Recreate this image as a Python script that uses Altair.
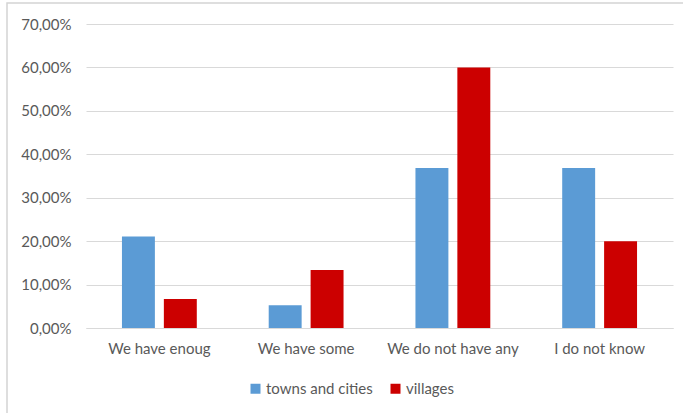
import altair as alt
import pandas as pd

# Survey answers, share of respondents per settlement type
categories = ["We have enoug", "We have some", "We do not have any", "I do not know"]
series = ["towns and cities", "villages"]
towns_and_cities = [0.2105, 0.0526, 0.3684, 0.3684]
villages = [0.0667, 0.1333, 0.6000, 0.2000]
y_ticks = [0.0, 0.1, 0.2, 0.3, 0.4, 0.5, 0.6, 0.7]
colors = ["#5b9bd5", "#cc0000"]

rows = []
for cat, t, v in zip(categories, towns_and_cities, villages):
    rows.append({"answer": cat, "area": series[0], "share": t})
    rows.append({"answer": cat, "area": series[1], "share": v})
df = pd.DataFrame(rows)

FONT = "Lato"
FS = 15
GREY_TEXT = "#595959"
GRID = "#d9d9d9"

bars = alt.Chart(df).mark_bar().encode(
    x=alt.X(
        "answer:N",
        sort=categories,
        scale=alt.Scale(paddingInner=0.49, paddingOuter=0.245),
        axis=alt.Axis(
            title=None, labelAngle=0, ticks=False, domain=True,
            domainColor=GRID, labelPadding=13, labelFontSize=FS,
            labelColor=GREY_TEXT, labelFont=FONT,
        ),
    ),
    xOffset=alt.XOffset(
        "area:N", sort=series,
        scale=alt.Scale(paddingInner=0.214, paddingOuter=0),
    ),
    y=alt.Y(
        "share:Q",
        scale=alt.Scale(domain=[0, 0.7], nice=False),
        axis=alt.Axis(
            title=None, values=y_ticks, domain=False, ticks=False,
            grid=True, gridColor=GRID, labelPadding=15, labelFontSize=FS,
            labelColor=GREY_TEXT, labelFont=FONT,
            labelExpr="replace(format(datum.value, '.2%'), '.', ',')",
        ),
    ),
    color=alt.Color(
        "area:N", sort=series,
        scale=alt.Scale(domain=series, range=colors),
        legend=alt.Legend(
            title=None, orient="none", direction="horizontal",
            legendX=162, legendY=357, symbolType="square", symbolSize=100,
            symbolStrokeWidth=0, labelFontSize=FS, labelColor=GREY_TEXT,
            labelFont=FONT, labelOffset=3, columnPadding=15, padding=0,
        ),
    ),
)

# Light frame around the whole figure
frame = alt.Chart(pd.DataFrame({"f": [0]})).mark_rect(
    filled=False, stroke="#d4d4d4", strokeWidth=1.5
).encode(
    x=alt.value(-79), x2=alt.value(720),
    y=alt.value(-21), y2=alt.value(450),
)

chart = alt.layer(frame, bars).properties(
    width=587, height=304,
    autosize=alt.AutoSizeParams(type="none"),
    padding={"left": 86, "top": 24, "right": 10, "bottom": 85},
    background="white",
).configure_view(stroke=None)

chart.save("out.html", embed_options={"renderer": "svg", "actions": False})
